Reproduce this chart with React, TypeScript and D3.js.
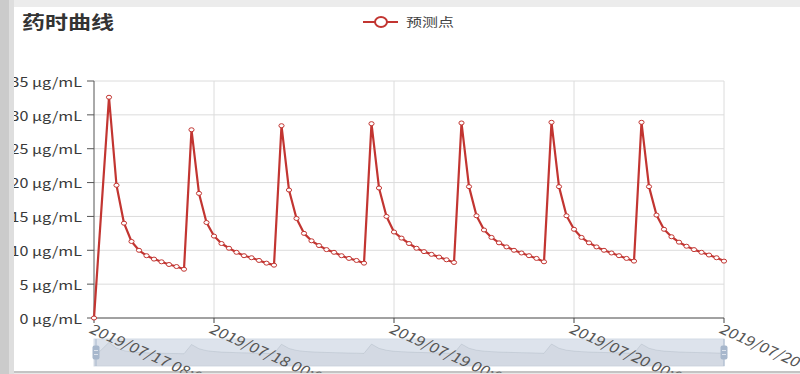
import React from "react";
import * as d3 from "d3";

const title = "药时曲线";
const seriesName = "预测点";
const yTicks = [0, 5, 10, 15, 20, 25, 30, 35];
const yUnit = " µg/mL";
const xTickLabels = ["2019/07/17 08:00", "2019/07/18 00:00", "2019/07/19 00:00", "2019/07/20 00:00", "2019/07/20 20:00"];
const xMin = "2019/07/17 08:00";
const xMax = "2019/07/20 20:00";

// initial sample
const firstTime = "2019/07/17 08:00";
const firstValue = 0;
// each dose cycle: time of its peak, then hourly values
const cycleStarts = [
  "2019/07/17 10:00",
  "2019/07/17 21:00",
  "2019/07/18 09:00",
  "2019/07/18 21:00",
  "2019/07/19 09:00",
  "2019/07/19 21:00",
  "2019/07/20 09:00",
];
const cycle1 = [32.6, 19.6, 14.0, 11.3, 10.0, 9.2, 8.7, 8.3, 7.9, 7.6, 7.2];
const cycle2 = [27.8, 18.4, 14.1, 12.1, 11.0, 10.3, 9.7, 9.2, 8.9, 8.5, 8.1, 7.8];
const cycle3 = [28.4, 18.9, 14.7, 12.5, 11.4, 10.7, 10.1, 9.7, 9.2, 8.8, 8.5, 8.1];
const cycle4 = [28.7, 19.2, 15.0, 12.7, 11.8, 11.0, 10.3, 9.8, 9.4, 9.0, 8.6, 8.2];
const cycle5 = [28.8, 19.4, 15.1, 13.0, 11.9, 11.1, 10.5, 10.0, 9.6, 9.2, 8.8, 8.3];
const cycle6 = [28.9, 19.4, 15.1, 13.1, 11.9, 11.1, 10.5, 10.0, 9.6, 9.2, 8.8, 8.4];
const cycle7 = [28.9, 19.4, 15.2, 13.1, 12.0, 11.2, 10.6, 10.1, 9.7, 9.3, 8.9, 8.4];
const cycles = [cycle1, cycle2, cycle3, cycle4, cycle5, cycle6, cycle7];

const W = 800;
const H = 374;
const SX = 1.28; // horizontal stretch of the reference screenshot
const FONT = "'Noto Sans CJK SC', 'Noto Sans', sans-serif";
const RED = "#c23531";

const parse = d3.timeParse("%Y/%m/%d %H:%M");
const HOUR = 3600 * 1000;

type Pt = { t: Date; v: number };
const data: Pt[] = [{ t: parse(firstTime)!, v: firstValue }];
cycles.forEach((vals, ci) => {
  const s = parse(cycleStarts[ci])!.getTime();
  vals.forEach((v, i) => data.push({ t: new Date(s + i * HOUR), v }));
});

const plot = { left: 94, right: 724, top: 81, bottom: 318 };
const x = d3.scaleTime().domain([parse(xMin)!, parse(xMax)!]).range([plot.left, plot.right]);
const y = d3.scaleLinear().domain([0, 35]).range([plot.bottom, plot.top]);

const slider = { top: 339, bottom: 366 };
const ys = d3.scaleLinear().domain([-20, 40]).range([slider.bottom, slider.top]);

const line = d3.line<Pt>().x((d) => x(d.t)).y((d) => y(d.v));
const shadowArea = d3.area<Pt>().x((d) => x(d.t)).y0(slider.bottom).y1((d) => ys(d.v));
const shadowLine = d3.line<Pt>().x((d) => x(d.t)).y((d) => ys(d.v));

function SText(props: { x: number; y: number; children: React.ReactNode; rotate?: number; anchor?: string; size: number; weight?: string; fill?: string; baseline?: string; sx?: number }) {
  const { rotate = 0, sx = SX } = props;
  return (
    <g transform={`translate(${props.x},${props.y}) scale(${sx},1) rotate(${rotate})`}>
      <text
        x={0}
        y={0}
        textAnchor={(props.anchor as any) || "start"}
        dominantBaseline={(props.baseline as any) || "central"}
        fontSize={props.size}
        fontWeight={props.weight || "normal"}
        fill={props.fill || "#333"}
        fontFamily={FONT}
      >
        {props.children}
      </text>
    </g>
  );
}

export default function App() {
  const xTickDates = xTickLabels.map((s) => parse(s)!);
  return (
    <svg width={W} height={H} style={{ position: "absolute", left: 0, top: 0, background: "#fff" }}>
      <rect x={0} y={0} width={W} height={H} fill="#fff" />
      {/* grid */}
      {yTicks.filter((t) => t !== 0).map((t) => (
        <line key={"gy" + t} x1={plot.left} x2={plot.right} y1={y(t)} y2={y(t)} stroke="#dcdcdc" strokeWidth={1} />
      ))}
      {xTickDates.slice(1).map((d, i) => (
        <line key={"gx" + i} x1={x(d)} x2={x(d)} y1={plot.top} y2={plot.bottom} stroke="#dcdcdc" strokeWidth={1} />
      ))}
      {/* y axis */}
      <line x1={plot.left} x2={plot.left} y1={plot.top} y2={plot.bottom} stroke="#555" strokeWidth={1} />
      {yTicks.map((t) => (
        <g key={"yt" + t}>
          <line x1={plot.left - 7} x2={plot.left} y1={y(t)} y2={y(t)} stroke="#555" strokeWidth={1} />
          <SText x={plot.left - 12} y={y(t)} anchor="end" size={13} sx={1.24} fill="#3a3a3a">
            {t + yUnit}
          </SText>
        </g>
      ))}
      {/* x axis */}
      <line x1={plot.left} x2={plot.right} y1={plot.bottom} y2={plot.bottom} stroke="#444" strokeWidth={1} />
      {xTickDates.map((d, i) => (
        <line key={"xtk" + i} x1={x(d)} x2={x(d)} y1={plot.bottom} y2={plot.bottom + 5} stroke="#444" strokeWidth={1} />
      ))}
      {/* series */}
      <path d={line(data) || ""} fill="none" stroke={RED} strokeWidth={2.2} strokeLinejoin="round" />
      {data.map((d, i) => (
        <ellipse key={"p" + i} cx={x(d.t)} cy={y(d.v)} rx={2.6} ry={2.0} fill="#fff" stroke={RED} strokeWidth={1} />
      ))}
      {/* data zoom slider */}
      <rect x={plot.left} y={slider.top} width={plot.right - plot.left} height={slider.bottom - slider.top} fill="#dde3ec" stroke="#d4dbe5" />
      <path d={shadowArea(data) || ""} fill="rgba(47,69,84,0.06)" stroke="none" />
      <path d={shadowLine(data) || ""} fill="none" stroke="rgba(47,69,84,0.15)" strokeWidth={0.7} />
      {[plot.left + 2, plot.right].map((hx, i) => (
        <g key={"h" + i}>
          <line x1={hx} x2={hx} y1={slider.top} y2={slider.bottom} stroke="#a7b7cc" strokeWidth={1} />
          <rect x={hx - 3.5} y={(slider.top + slider.bottom) / 2 - 7} width={7} height={14} rx={2} fill="#a7b7cc" />
          <line x1={hx - 2} x2={hx + 2} y1={(slider.top + slider.bottom) / 2 - 2} y2={(slider.top + slider.bottom) / 2 - 2} stroke="#dde3ec" />
          <line x1={hx - 2} x2={hx + 2} y1={(slider.top + slider.bottom) / 2 + 2} y2={(slider.top + slider.bottom) / 2 + 2} stroke="#dde3ec" />
        </g>
      ))}
      {/* x labels on top of slider */}
      {xTickDates.map((d, i) => (
        <SText key={"xt" + i} x={x(d) - 2} y={plot.bottom + 9} rotate={30} size={13.5} fill="#555">
          {xTickLabels[i]}
        </SText>
      ))}
      {/* title */}
      <SText x={22} y={21} size={18} weight="bold" fill="#333">
        {title}
      </SText>
      {/* legend */}
      <line x1={363} x2={398} y1={22} y2={22} stroke={RED} strokeWidth={2} />
      <ellipse cx={381} cy={22} rx={6} ry={5} fill="#fff" stroke={RED} strokeWidth={2} />
      <SText x={406} y={21.5} size={12.5} fill="#444">
        {seriesName}
      </SText>
      {/* screenshot frame */}
      <rect x={14} y={0} width={W - 14} height={7} fill="#ececec" />
      <rect x={0} y={0} width={9} height={H} fill="#cbcbcb" />
      <rect x={9} y={0} width={5} height={H} fill="#dedede" />
      <line x1={14} x2={W} y1={372} y2={372} stroke="#8a8a8a" strokeWidth={1.2} />
      <rect x={14} y={373} width={W - 14} height={1} fill="#e8e8e8" />
    </svg>
  );
}
